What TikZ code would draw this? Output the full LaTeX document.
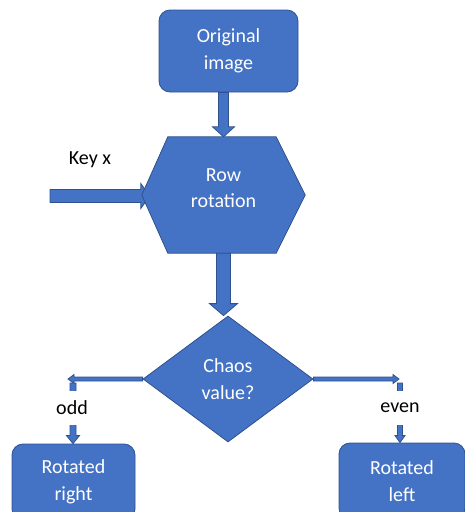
\documentclass[tikz,border=0pt]{standalone}
\usepackage{fontspec}
\setmainfont{Carlito}
\usepackage{tikz}
\usetikzlibrary{calc,positioning,shapes,backgrounds}
\definecolor{boxblue}{HTML}{4472C4}
\definecolor{boxedge}{HTML}{2F528F}
\tikzset{
  shapefill/.style={fill=boxblue, draw=boxedge, line width=0.8pt},
  flowtext/.style={text=white, align=center, font=\fontsize{20}{26.5}\selectfont},
  roundbox/.style={shapefill, flowtext, rounded corners=11pt, inner sep=0pt},
  hexbox/.style={flowtext, inner sep=0pt, text depth=14pt,
    minimum width=163pt, minimum height=116pt},
  decision/.style={shapefill, flowtext, diamond, inner sep=0pt,
    minimum width=170pt, minimum height=126pt},
  branchlabel/.style={fill=white, inner sep=1pt, minimum height=34pt,
    font=\fontsize{20}{24}\selectfont}
}
% filled block arrow: from, to, half shaft, half head, head length
\newcommand{\blockarrow}[5]{%
  \coordinate (ba-s) at (#1);
  \coordinate (ba-t) at (#2);
  \coordinate (ba-b) at ($(ba-t)!#5!(ba-s)$);
  \path[shapefill]
    ($(ba-s)!#3!90:(ba-t)$) -- ($(ba-b)!#3!90:(ba-t)$) -- ($(ba-b)!#4!90:(ba-t)$)
    -- (ba-t) -- ($(ba-b)!#4!-90:(ba-t)$) -- ($(ba-b)!#3!-90:(ba-t)$)
    -- ($(ba-s)!#3!-90:(ba-t)$) -- cycle;
}

\begin{document}
\begin{tikzpicture}[x=1pt, y=-1pt]
  \useasboundingbox (0,0) rectangle (465,512);
  \clip (0,0) rectangle (465,512);

  \node[roundbox, minimum width=139pt, minimum height=82pt] (orig) at (228.5,51) {Original\\image};
  \node[hexbox] (row) at (223.5,195) {Row\\rotation};
  \node[decision] (chaos) at (228,379) {Chaos\\value?};
  \node[roundbox, minimum width=123pt, minimum height=76pt] (rright) at (73.5,482) {Rotated\\right};
  \node[roundbox, minimum width=126pt, minimum height=76pt] (rleft) at (402,481) {Rotated\\left};
  \node[font=\fontsize{20}{24}\selectfont] (key) at (90,160) {Key x};

  \coordinate (keyin) at (50,196);
  \coordinate (oddturn) at (68,379);
  \coordinate (eventurn) at (399,379);
  \coordinate (odddrop) at (73,383);
  \coordinate (evendrop) at (400,383);

  \begin{scope}[on background layer]
    \blockarrow{keyin}{$(keyin -| row.west)+(8,0)$}{6.5pt}{12.5pt}{9pt}
    \path[shapefill] (row.west) -- ([xshift=26pt]row.north west)
      -- ([xshift=-29pt]row.north east) -- (row.east)
      -- ([xshift=-29pt]row.south east) -- ([xshift=26pt]row.south west) -- cycle;
  \end{scope}

  \blockarrow{orig.south -| row.north}{row.north}{5pt}{11pt}{10pt}
  \blockarrow{row.south}{row.south |- chaos.north}{7pt}{14pt}{12pt}

  \blockarrow{chaos.west}{oddturn}{2pt}{4.5pt}{6pt}
  \blockarrow{odddrop}{odddrop |- rright.north}{3pt}{6.5pt}{8pt}
  \node[branchlabel] (odd) at (72,408) {odd};

  \blockarrow{chaos.east}{eventurn}{2pt}{4.5pt}{6pt}
  \blockarrow{evendrop}{evendrop |- rleft.north}{2.5pt}{5pt}{7pt}
  \node[branchlabel] (even) at (400,408) {even};
\end{tikzpicture}
\end{document}
